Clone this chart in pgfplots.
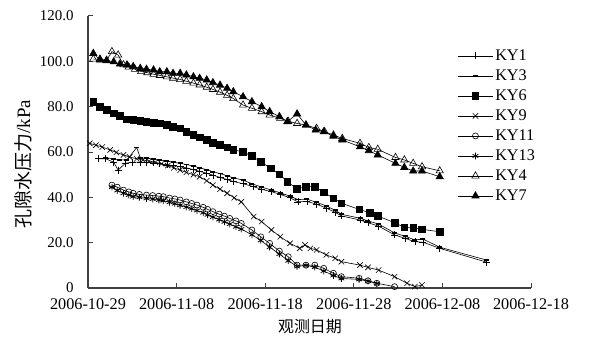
\documentclass[border=0pt]{standalone}
\usepackage{pgfplots}
\pgfplotsset{compat=1.18}
\usepackage{fontspec}
\setmainfont{Liberation Serif}
\newfontfamily\cjk{Noto Sans CJK SC}
\begin{document}
\begin{tikzpicture}
\path[use as bounding box] (-88bp,-50bp) rectangle (501bp,288bp);
\begin{axis}[
  at={(0,0)}, anchor=origin,
  scale only axis, width=443bp, height=272bp,
  xmin=0, xmax=50, ymin=0, ymax=120,
  axis x line=bottom, axis y line=left,
  axis line style={-, line width=1.1pt, black!75},
  tick style={line width=1pt, black!75},
  tick align=inside, major tick length=5bp,
  xtick={0,10,20,30,40,50},
  xticklabels={2006-10-29,2006-11-08,2006-11-18,2006-11-28,2006-12-08,2006-12-18},
  ytick={0,20,40,60,80,100,120},
  yticklabels={0,20.0,40.0,60.0,80.0,100.0,120.0},
  xticklabel style={font=\fontsize{16.3}{19}\selectfont, yshift=-7.5bp},
  yticklabel style={font=\fontsize{15}{18}\selectfont, xshift=-11bp},
  xlabel={\cjk 观测日期},
  ylabel={{\cjk 孔隙水压力}/kPa},
  xlabel style={font=\fontsize{16}{19}\selectfont, at={(axis description cs:0.501,-0.1434)}, anchor=center},
  ylabel style={font=\fontsize{19}{22}\selectfont, at={(axis description cs:-0.1467,0.456)}, anchor=center, rotate=0},
  clip=false,
  legend style={at={(0.834,0.884)}, anchor=north west, draw=none, fill=none,
    font=\fontsize{16.3}{19}\selectfont, row sep=3.8bp, inner sep=0pt},
  legend cell align=left,
  legend image code/.code={\draw[#1] (0bp,0bp) -- (17bp,0bp) (35bp,0bp) -- (17bp,0bp);
    \draw[#1, mark repeat=1] plot coordinates {(17.5bp,0bp)};},
  every axis plot/.append style={black, line width=0.6pt},
]
% KY1
\addplot[mark=+, mark size=3.5bp] coordinates {
(1.2,57)(2.0,57)(2.9,55.5)(3.4,52)(4.2,55)(5.0,55.5)(5.9,55.5)(6.6,55.5)(7.4,55.2)(8.1,54.8)(8.9,54.3)(9.6,54)(10.4,53.5)(11.1,53)(11.9,52.2)(12.6,51.5)(13.4,50.6)(14.1,49.8)(14.9,48.8)(15.7,47.8)(16.4,47)(17.5,46)(18.7,44.7)(19.6,43.5)(20.7,42.5)(21.7,41.3)(22.8,39.8)(23.7,38)(24.7,38.2)(25.8,37)(26.9,35.2)(27.9,33.4)(28.6,31.8)(30.7,30)(31.6,28.8)(32.8,27.3)(34.6,23.4)(35.8,21.9)(36.9,20.4)(37.8,20.2)(39.7,17.5)(45,11.4)};
\addlegendentry{KY1}
% KY3
\addplot[mark=-, mark size=2.5bp, mark options={line width=1.8pt}] coordinates {
(2.0,57.5)(2.9,57)(3.6,56.5)(4.4,56.5)(5.5,62)(5.9,57.5)(6.6,57.2)(7.4,57.0)(8.1,56.5)(8.9,56)(9.6,55.5)(10.4,55)(11.1,54.5)(11.9,53.8)(12.6,53)(13.4,52.2)(14.1,51.3)(14.9,50.5)(15.7,49.5)(16.4,48.6)(17.5,47.6)(18.5,46)(19.6,44.5)(20.7,43.2)(21.7,42)(22.8,40.5)(23.7,39)(24.7,39.2)(25.8,37.8)(26.9,36.2)(27.9,34.3)(28.6,32.5)(30.7,30.8)(31.6,29.6)(32.8,28.2)(34.6,24.3)(35.8,22.8)(36.9,21.2)(37.8,21.6)(39.7,18)(45,12.3)};
\addlegendentry{KY3}
% KY6
\addplot[mark=square*, mark size=3.3bp] coordinates {
(0.6,82.2)(1.35,80)(2.1,78.5)(2.9,77)(3.6,75.9)(4.4,74.4)(5.1,74.1)(5.9,73.8)(6.6,73.4)(7.4,72.9)(8.1,72.6)(8.9,71.9)(9.6,71.2)(10.4,70.4)(11.1,69)(11.9,67.5)(12.6,66.5)(13.4,65.3)(14.1,64.1)(14.9,63.1)(15.7,62)(16.4,60.9)(17.5,60.1)(18.5,58.2)(19.5,55.7)(20.6,52.8)(21.6,50.2)(22.5,46.9)(23.6,43.7)(24.6,44.7)(25.6,44.7)(26.6,42.2)(27.7,39.6)(28.6,37.4)(30.6,34.7)(31.8,33.2)(32.7,31.8)(34.6,28.8)(35.7,26.8)(36.7,26.5)(37.7,25.9)(39.7,24.8)};
\addlegendentry{KY6}
% KY9
\addplot[mark=x, mark size=3.8bp] coordinates {
(0.2,63.8)(0.9,63)(1.6,62.2)(2.5,60.9)(3.2,59.8)(4.0,58.7)(4.7,57.8)(5.5,57)(6.2,56.5)(6.9,56)(7.6,55.5)(8.3,54.8)(9.0,54)(9.7,53)(10.4,52)(11.1,51)(11.9,50)(12.6,49.1)(13.4,47.3)(14.1,45.4)(14.9,43.6)(15.7,41.8)(16.5,39.8)(17.3,38)(18.7,31.5)(19.6,29.3)(20.7,25.6)(21.7,22.6)(22.8,19.7)(23.9,17.5)(24.5,19)(25.1,17.5)(25.8,16.8)(26.9,14.6)(27.9,13.1)(28.6,11.6)(30.7,10.1)(31.6,9.1)(32.8,7.9)(34.6,5)(36.0,2.1)(36.9,0.6)(37.7,1.3)};
\addlegendentry{KY9}
% KY11
\addplot[mark=o, mark size=3bp] coordinates {
(2.7,45.4)(3.3,44.5)(4.0,43.2)(4.6,42.4)(5.1,41.8)(5.8,41.3)(6.6,41.0)(7.3,40.8)(8.0,40.5)(8.5,40.3)(9.2,39.7)(9.8,39.3)(10.4,38.8)(11.1,38)(11.7,37.3)(12.3,36.6)(13.0,35.6)(13.5,34.7)(14.1,33.7)(14.8,32.6)(15.4,31.7)(16.0,30.7)(16.7,29.6)(17.3,28.5)(18.5,25.6)(19.5,22.6)(20.5,19.7)(21.6,16.3)(22.6,13.8)(23.6,10.1)(24.6,10.1)(25.6,10.1)(26.6,8.7)(27.7,6.5)(28.6,5.0)(30.6,4.3)(31.6,3.2)(32.6,2.1)(34.6,0.6)};
\addlegendentry{KY11}
% KY13
\addplot[mark=asterisk, mark size=3.3bp, mark options={line width=0.8pt}] coordinates {
(2.7,44.5)(3.3,43)(4.0,41.8)(4.6,41)(5.1,40.3)(5.8,40)(6.6,39.5)(7.3,39.2)(8.0,38.8)(8.5,38.5)(9.2,37.8)(9.8,37.2)(10.4,36.5)(11.1,35.7)(11.7,35)(12.3,34.2)(13.0,33.2)(13.5,32.3)(14.1,31.3)(14.8,30.2)(15.4,29.2)(16.0,28.2)(16.7,27)(17.3,26)(18.5,23.5)(19.5,21)(20.5,18)(21.6,15)(22.6,12)(23.6,9.5)(24.6,10)(25.6,9.2)(26.6,7.5)(27.7,5.5)(28.6,4.2)(30.6,3.8)(31.6,3)(32.6,2)};
\addlegendentry{KY13}
% KY4
\addplot[mark=triangle, mark size=4.2bp, mark options={fill=white}] coordinates {
(0.6,101.0)(1.35,101.0)(2.1,100.5)(2.7,104.3)(3.4,102.8)(4.0,98.5)(4.6,97.5)(5.3,96.5)(6.0,95.5)(6.7,95.0)(7.4,94.3)(8.1,93.8)(8.9,93.2)(9.6,92.6)(10.4,92.0)(11.1,91.2)(11.9,90.4)(12.6,89.6)(13.4,88.6)(14.1,87.6)(14.9,86.4)(15.7,85.0)(16.4,83.6)(17.5,80.7)(18.5,79.3)(19.6,77.8)(20.5,76.3)(21.7,74.9)(22.6,73.5)(23.6,72.6)(24.6,71.9)(25.8,70.4)(26.7,69.0)(27.7,67.5)(28.7,66.0)(30.7,63.8)(31.7,62.0)(32.7,61.2)(34.7,57.6)(35.7,56.5)(36.7,55.0)(37.7,53.5)(39.7,51.7)};
\addlegendentry{KY4}
% KY7
\addplot[mark=triangle*, mark size=4.2bp] coordinates {
(0.6,103.5)(1.35,100.6)(2.1,100.3)(2.9,99.8)(3.6,98.8)(4.4,98.4)(5.1,97.7)(5.9,96.9)(6.6,96.5)(7.4,96.2)(8.1,95.4)(8.9,95.4)(9.6,94.7)(10.4,94.7)(11.1,94.0)(11.9,93.2)(12.6,92.5)(13.4,91.8)(14.1,90.6)(14.9,89.5)(15.7,88.1)(16.4,86.6)(17.5,84.4)(18.5,82.2)(19.6,80.0)(20.5,77.8)(21.6,75.6)(22.5,73.4)(23.6,76.8)(24.6,71.9)(25.7,69.7)(26.6,68.9)(27.7,67.0)(28.7,65.3)(30.7,62.3)(31.7,60.6)(32.7,58.7)(34.7,55.0)(35.7,53.2)(36.7,51.6)(37.7,51.6)(39.7,49.1)};
\addlegendentry{KY7}
\end{axis}
\end{tikzpicture}
\end{document}
